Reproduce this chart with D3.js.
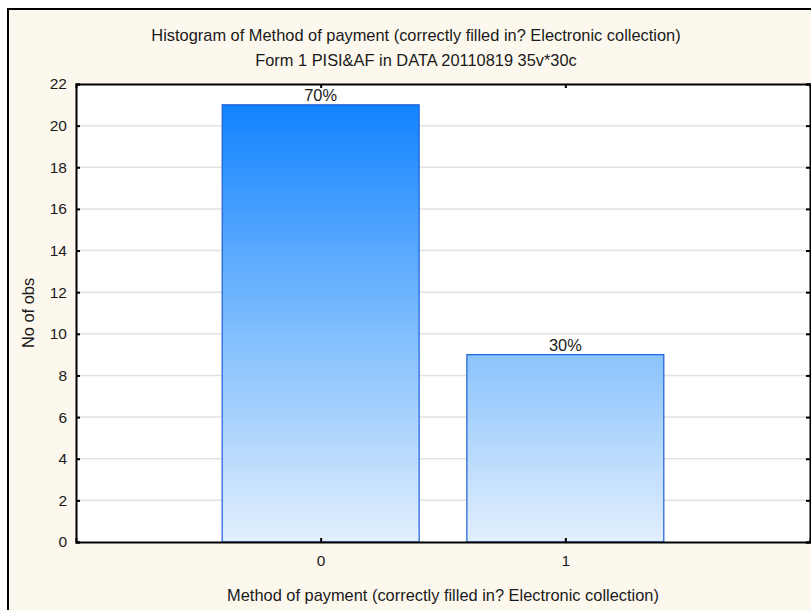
<!DOCTYPE html>
<html><head><meta charset="utf-8">
<script src="https://cdn.jsdelivr.net/npm/d3@7"></script>
<style>body{margin:0;background:#fff}svg{display:block}text{font-family:"Liberation Sans",Arial,sans-serif;fill:#1a1a1a}</style>
</head><body>
<script>
const categories = [0, 1];
const counts = [21, 9];
const pctLabels = ["70%", "30%"];
const yTicks = [0, 2, 4, 6, 8, 10, 12, 14, 16, 18, 20, 22];
const titleLines = ["Histogram of Method of payment (correctly filled in? Electronic collection)", "Form 1 PISI&AF in DATA 20110819 35v*30c"];
const xTitle = "Method of payment (correctly filled in? Electronic collection)";
const yTitle = "No of obs";

const W = 811, H = 610;
const FS = 16.4;
const svg = d3.select("body").append("svg").attr("width", W).attr("height", H);
// outer panel
svg.append("rect").attr("x", 8).attr("y", 9).attr("width", W + 10).attr("height", H + 10)
  .attr("fill", "#fdf8ee").attr("stroke", "#000").attr("stroke-width", 2);

const L = 76, R = 810, T = 84, B = 542;
const x = d3.scaleLinear().domain([-1, 2]).range([L, R]);
const y = d3.scaleLinear().domain([0, 22]).range([B, T]);

svg.append("rect").attr("x", L).attr("y", T).attr("width", R - L).attr("height", B - T).attr("fill", "#fff");

// grid
svg.append("g").selectAll("line").data(yTicks.filter(d => d > 0 && d < 22)).join("line")
  .attr("x1", L).attr("x2", R).attr("y1", d => y(d)).attr("y2", d => y(d))
  .attr("stroke", "#e2e2e2").attr("stroke-width", 1.5);

// gradient
const defs = svg.append("defs");
const grad = defs.append("linearGradient").attr("id", "bg").attr("gradientUnits", "userSpaceOnUse")
  .attr("x1", 0).attr("x2", 0).attr("y1", y(21)).attr("y2", y(0));
grad.append("stop").attr("offset", 0).attr("stop-color", "#1283ff");
grad.append("stop").attr("offset", 0.55).attr("stop-color", "#86c1fd");
grad.append("stop").attr("offset", 1).attr("stop-color", "#e2effd");

const bw = 0.805;
svg.append("g").selectAll("rect").data(categories).join("rect")
  .attr("x", (d) => x(d - bw / 2)).attr("width", x(bw) - x(0))
  .attr("y", (d, i) => y(counts[i])).attr("height", (d, i) => y(0) - y(counts[i]))
  .attr("fill", "url(#bg)").attr("stroke", "#1d5fd8").attr("stroke-width", 1.2);

svg.append("g").selectAll("text").data(categories).join("text")
  .attr("x", d => x(d)).attr("y", (d, i) => y(counts[i]) - 4)
  .attr("text-anchor", "middle").attr("font-size", FS).attr("fill", "#111").text((d, i) => pctLabels[i]);

// axes (inward ticks)
const axL = svg.append("g").attr("transform", `translate(${L},0)`)
  .call(d3.axisLeft(y).tickValues(yTicks).tickSize(-4).tickPadding(9));
const axR = svg.append("g").attr("transform", `translate(${R},0)`)
  .call(d3.axisRight(y).tickValues(yTicks).tickSize(-4).tickFormat(""));
const axB = svg.append("g").attr("transform", `translate(0,${B})`)
  .call(d3.axisBottom(x).tickValues(categories).tickSize(-4).tickPadding(13).tickFormat(d3.format("d")));
const axT = svg.append("g").attr("transform", `translate(0,${T})`)
  .call(d3.axisTop(x).tickValues(categories).tickSize(-4).tickFormat(""));
[axL, axR, axB, axT].forEach(g => {
  g.select(".domain").attr("stroke", "#000").attr("stroke-width", 2);
  g.selectAll(".tick line").attr("stroke", "#000").attr("stroke-width", 2);
  g.selectAll(".tick text").attr("font-size", 15.5).attr("fill", "#1a1a1a")
    .attr("font-family", '"Liberation Sans",Arial,sans-serif');
});

// titles
svg.selectAll("text.title").data(titleLines).join("text").attr("class", "title")
  .attr("x", 416).attr("y", (d, i) => 41 + i * 25).attr("text-anchor", "middle")
  .attr("font-size", FS).text(d => d);
svg.append("text").attr("x", (L + R) / 2).attr("y", 601).attr("text-anchor", "middle")
  .attr("font-size", FS).text(xTitle);
svg.append("text").attr("transform", `translate(34,${(T + B) / 2}) rotate(-90)`)
  .attr("text-anchor", "middle").attr("font-size", FS).text(yTitle);
</script>
</body></html>
